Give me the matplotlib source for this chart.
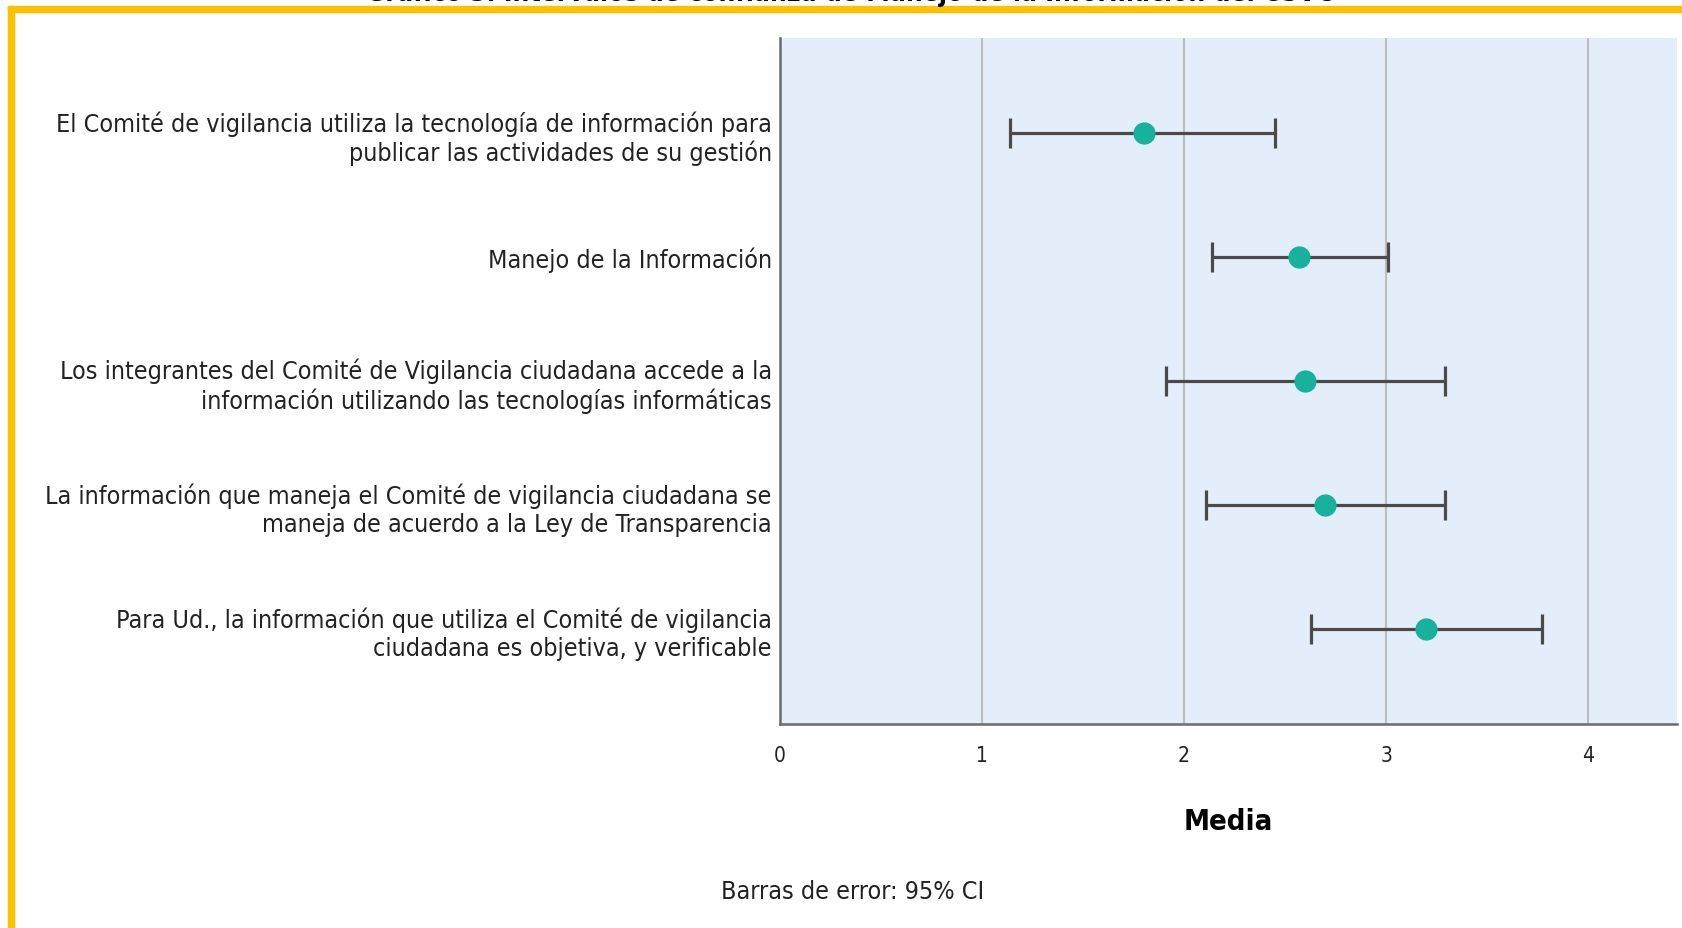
import matplotlib
matplotlib.use("Agg")
import matplotlib.pyplot as plt
from matplotlib.patches import Rectangle

# items (top to bottom)
labels = [
    "El Comité de vigilancia utiliza la tecnología de información para\npublicar las actividades de su gestión",
    "Manejo de la Información",
    "Los integrantes del Comité de Vigilancia ciudadana accede a la\ninformación utilizando las tecnologías informáticas",
    "La información que maneja el Comité de vigilancia ciudadana se\nmaneja de acuerdo a la Ley de Transparencia",
    "Para Ud., la información que utiliza el Comité de vigilancia\nciudadana es objetiva, y verificable",
]
means = [1.80, 2.57, 2.60, 2.70, 3.20]
ci_low = [1.14, 2.14, 1.91, 2.11, 2.63]
ci_high = [2.45, 3.01, 3.29, 3.29, 3.77]
ticks = [0, 1, 2, 3, 4]

W, H = 1682, 929
fig = plt.figure(figsize=(W / 100, H / 100), dpi=100)
fig.patch.set_facecolor("white")

FONT = dict(family="DejaVu Sans", stretch="condensed")

# title is cut off by the top edge in the original
fig.text(850 / W, 1 - 1 / H, "Gráfico 3. Intervalos de confianza de Manejo de la Información del CSVC",
         ha="center", va="baseline", fontsize=19, fontweight="bold", **FONT)

# yellow frame (top and left)
yellow = "#FFC000"
fig.patches.append(Rectangle((8 / W, 1 - 13 / H), 1, 6 / H, transform=fig.transFigure,
                             color=yellow, zorder=0))
fig.patches.append(Rectangle((8 / W, -0.1), 6 / W, 1 - 7 / H + 0.1, transform=fig.transFigure,
                             color=yellow, zorder=0))

ax = fig.add_axes([780 / W, 1 - 725 / H, (1677 - 780) / W, (725 - 38.6) / H])
ax.set_facecolor("#E3EEFA")

y = list(range(len(labels)))
xerr = [[m - lo for m, lo in zip(means, ci_low)], [hi - m for m, hi in zip(means, ci_high)]]
ax.errorbar(means, y, xerr=xerr, fmt="none", ecolor="#4a4a4a", elinewidth=2.3,
            capsize=11, capthick=2.3, zorder=3)
ax.plot(means, y, "o", color="#17B29E", markersize=15, zorder=4)

ax.set_xlim(0, 4.44)
ax.set_ylim(4.77, -0.77)
ax.set_xticks(ticks)
ax.set_yticks(y)
ax.set_yticklabels(labels, fontsize=18, linespacing=1.2, **FONT)
for t in ax.get_xticklabels():
    t.set_family("DejaVu Sans")
    t.set_stretch("condensed")
    t.set_fontsize(15)
ax.tick_params(axis="both", length=0, colors="#222222")
ax.tick_params(axis="y", pad=6)
ax.tick_params(axis="x", pad=15)

ax.grid(axis="x", color="#BDBDBD", linewidth=1.5, zorder=1)
ax.set_axisbelow(True)
for s in ["top", "right"]:
    ax.spines[s].set_visible(False)
for s in ["left", "bottom"]:
    ax.spines[s].set_color("#6a6a6a")
    ax.spines[s].set_linewidth(1.8)

fig.text(1228 / W, 1 - 822 / H, "Media", ha="center", va="center",
         fontsize=21, fontweight="bold", **FONT)
fig.text(853 / W, 1 - 892 / H, "Barras de error: 95% CI", ha="center", va="center",
         fontsize=18, color="#222222", **FONT)

fig.savefig("out.png", dpi=100)
